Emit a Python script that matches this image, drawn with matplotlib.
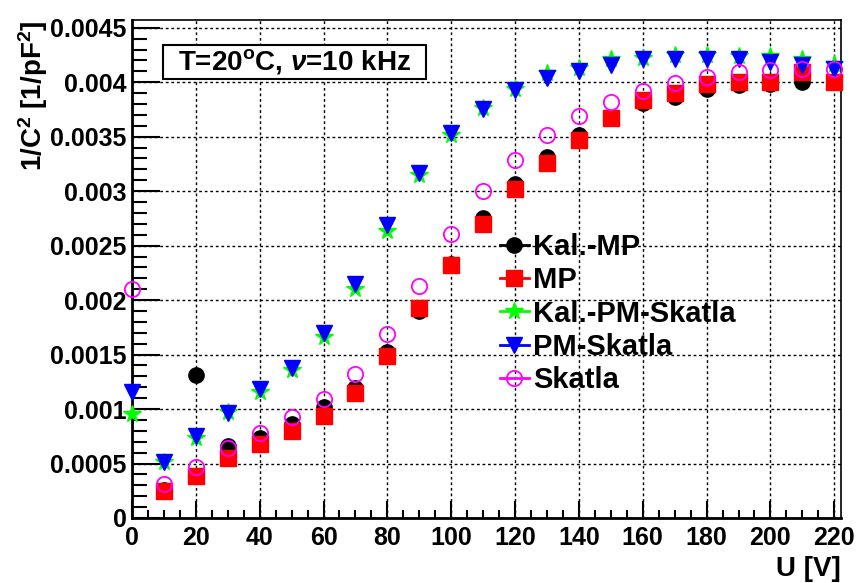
import numpy as np
import matplotlib.pyplot as plt
from matplotlib.lines import Line2D
from matplotlib.patches import Rectangle
from matplotlib.ticker import MultipleLocator

plt.rcParams['font.family'] = ['Liberation Sans', 'DejaVu Sans']
plt.rcParams['font.weight'] = 'bold'
plt.rcParams['axes.labelweight'] = 'bold'
plt.rcParams['mathtext.fontset'] = 'custom'
plt.rcParams['mathtext.rm'] = 'Liberation Sans:bold'
plt.rcParams['mathtext.bf'] = 'Liberation Sans:bold'
plt.rcParams['mathtext.it'] = 'Liberation Sans:italic:bold'
plt.rcParams['mathtext.default'] = 'bf'

# napetost [V]
U = np.arange(0, 230, 10)

nan = np.nan
kal_mp = [nan, 0.00026, 0.00131, 0.00066, 0.00073, 0.00086, 0.00102, 0.00119, 0.00152,
          0.00190, 0.00233, 0.00275, 0.00307, 0.00331, 0.00352, 0.00367, 0.00381,
          0.00386, 0.00394, 0.00397, 0.00398, 0.00400, 0.00400]
mp = [nan, 0.00025, 0.00039, 0.00055, 0.00068, 0.00080, 0.00094, 0.00115, 0.00149,
      0.00193, 0.00232, 0.00270, 0.00302, 0.00326, 0.00347, 0.00367, 0.00384,
      0.00390, 0.00398, 0.00400, 0.00400, 0.00409, 0.00400]
kal_pm_skatla = [0.00095, 0.00051, 0.00073, 0.00097, 0.00116, 0.00136, 0.00166, 0.00210,
                 0.00263, 0.00315, 0.00352, 0.00376, 0.00394, 0.00408, 0.00413, 0.00421,
                 0.00422, 0.00425, 0.00425, 0.00424, 0.00424, 0.00421, 0.00417]
pm_skatla = [0.00116, 0.00051, 0.00075, 0.00096, 0.00118, 0.00138, 0.00170, 0.00215,
             0.00269, 0.00317, 0.00353, 0.00375, 0.00393, 0.00404, 0.00410, 0.00416,
             0.00421, 0.00421, 0.00421, 0.00421, 0.00419, 0.00416, 0.00412]
skatla = [0.00210, 0.00031, 0.00047, 0.00064, 0.00078, 0.00093, 0.00109, 0.00132,
          0.00169, 0.00213, 0.00261, 0.00300, 0.00329, 0.00352, 0.00369, 0.00382,
          0.00392, 0.00399, 0.00405, 0.00409, 0.00411, 0.00412, 0.00412]

fig = plt.figure(figsize=(8.58, 5.83), dpi=100)
ax = fig.add_axes([0.1538, 0.1115, 0.826, 0.854])

series = [
    (kal_mp, "Kal.-MP", dict(marker='o', color='black', ms=11)),
    (mp, "MP", dict(marker='s', color='red', ms=11)),
    (kal_pm_skatla, "Kal.-PM-Skatla", dict(marker='*', color=(0, 1, 0), ms=13)),
    (pm_skatla, "PM-Skatla", dict(marker='v', color='blue', ms=12)),
    (skatla, "Skatla", dict(marker='o', color=(1, 0, 1), ms=11, mfc='none', mew=1.3)),
]

handles = []
for vals, name, st in series:
    ax.plot(U, vals, ls='none', clip_on=False, zorder=3, **st)
    handles.append(Line2D([], [], ls='-', lw=2, label=name, **st))

ax.set_xlim(0, 222)
ax.set_ylim(0, 0.00457)
ax.xaxis.set_major_locator(MultipleLocator(20))
ax.xaxis.set_minor_locator(MultipleLocator(5))
ax.yaxis.set_minor_locator(MultipleLocator(0.0001))
ax.set_yticks(np.arange(0, 0.0046, 0.0005))
ax.set_yticklabels(["0", "0.0005", "0.001", "0.0015", "0.002", "0.0025",
                    "0.003", "0.0035", "0.004", "0.0045"])

ax.tick_params(axis='both', which='both', direction='in', labelsize=18, width=1.5)
ax.tick_params(axis='y', which='major', length=20, pad=4)
ax.tick_params(axis='y', which='minor', length=11)
ax.tick_params(axis='x', which='major', length=12, pad=6)
ax.tick_params(axis='x', which='minor', length=6)
for s in ['left', 'bottom']:
    ax.spines[s].set_linewidth(2)
for s in ['top', 'right']:
    ax.spines[s].set_linewidth(1.2)

ax.grid(True, which='major', color='black', ls=(0, (2, 2)), lw=1)

ax.set_xlabel("U [V]", fontsize=20, loc='right', labelpad=4)
ax.set_ylabel(r"1/C$^{2}$ [1/pF$^{2}$]", fontsize=20, loc='top', labelpad=0)

# okvir z opisom meritve
ax.add_patch(Rectangle((0.044, 0.8815), 0.371, 0.0685, transform=ax.transAxes,
                       fc='white', ec='black', lw=1.5, zorder=4))
ax.text(0.229, 0.916, r"T=20$^{\mathrm{o}}$C, $\mathit{\nu}$=10 kHz", transform=ax.transAxes,
        fontsize=20, ha='center', va='center', zorder=5)

ax.legend(handles=handles, loc='upper left', bbox_to_anchor=(0.519, 0.572),
          frameon=False, fontsize=21, handlelength=1.0, handletextpad=0.15,
          labelspacing=0.18, borderpad=0, borderaxespad=0)

fig.savefig("out.png", dpi=100)
